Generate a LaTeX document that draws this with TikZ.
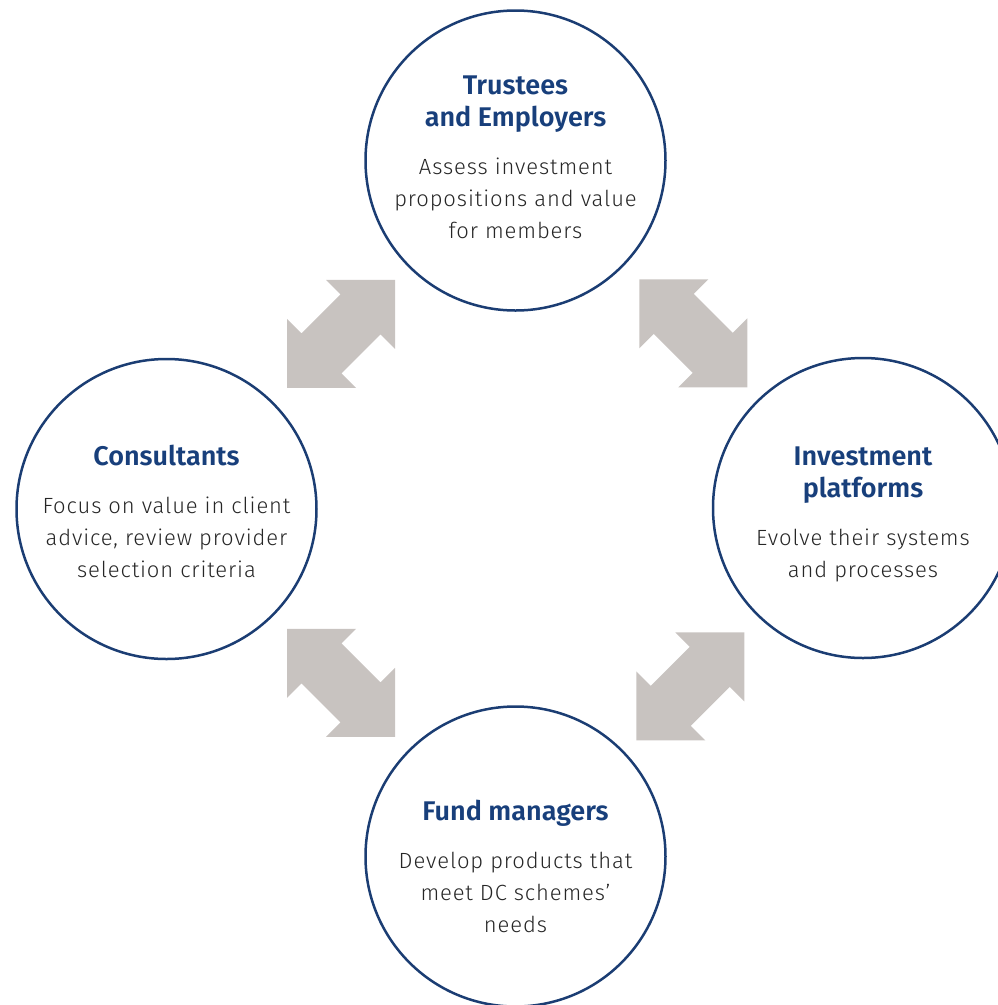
\documentclass[tikz,border=0pt]{standalone}
\usepackage{fontspec}
\setmainfont{Fira Sans Light}[BoldFont=Fira Sans SemiBold, LetterSpace=4]
\newfontfamily\ttlfont{Fira Sans SemiBold}
\usepackage{xcolor}
\usetikzlibrary{positioning, calc}
\definecolor{navy}{HTML}{1B3D73}
\definecolor{ttlblue}{HTML}{183F7B}
\definecolor{bodygrey}{HTML}{262626}
\definecolor{arrowgrey}{HTML}{C8C3C0}
\newcommand{\ttl}[1]{{\fontsize{27}{32}\selectfont\ttlfont\color{ttlblue}#1}}

\begin{document}
\begin{tikzpicture}[
  x=1pt, y=-1pt,
  stake/.style={draw=navy, line width=2.5pt, circle, minimum size=300pt, inner sep=0pt},
  txt/.style={align=center, text=bodygrey, font=\fontsize{22}{32}\selectfont},
  dblarrow/.pic={
    \fill[arrowgrey] (54,-54) -- (-15,-54) -- (-0.5,-39.5) -- (-39.5,-0.5) -- (-54,-15)
      -- (-54,54) -- (15,54) -- (0.5,39.5) -- (39.5,0.5) -- (54,15) -- cycle;
  }
]
\useasboundingbox (0,0) rectangle (998,1005);
% the four parties
\node[stake] (trustees) at (515.5,160.5) {};
\node[stake] (consult) at (166.5,509) {};
\node[stake] (platforms) at (863,508) {};
\node[stake] (funds) at (515.5,856.5) {};
\node[txt] (trusteestxt) at ($(trustees.center)+(0,-3.5)$) {\ttl{Trustees}\\\ttl{and Employers}\\[16pt]Assess investment\\propositions and value\\for members};
\node[txt] (consulttxt) at ($(consult.center)+(0,2)$) {\ttl{Consultants}\\[16pt]Focus on value in client\\advice, review provider\\selection criteria};
\node[txt] (platformstxt) at ($(platforms.center)+(0,6.5)$) {\ttl{Investment}\\\ttl{platforms}\\[16pt]Evolve their systems\\and processes};
\node[txt] (fundstxt) at ($(funds.center)+(0,10)$) {\ttl{Fund managers}\\[16pt]Develop products that\\meet DC schemes'\\needs};
% two-way links
\pic at ($(trustees)!0.5!(consult)+(0,-1)$) {dblarrow};
\pic[xscale=-1] at ($(trustees)!0.5!(platforms)+(4,-1)$) {dblarrow};
\pic[xscale=-1] at ($(consult)!0.5!(funds)$) {dblarrow};
\pic at ($(platforms)!0.5!(funds)+(1,4)$) {dblarrow};
\end{tikzpicture}
\end{document}
